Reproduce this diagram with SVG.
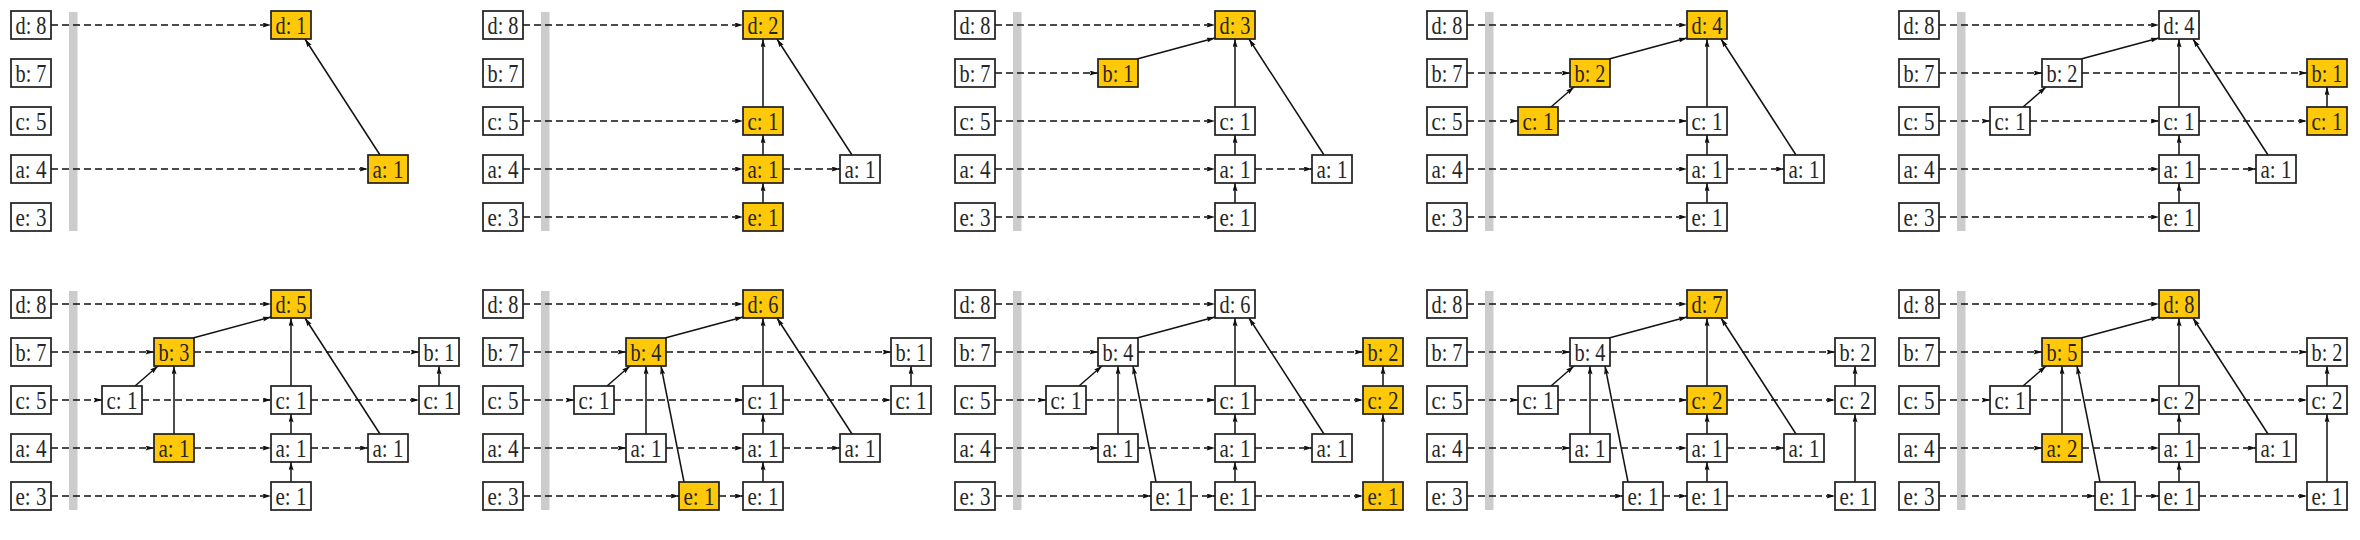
<svg xmlns="http://www.w3.org/2000/svg" width="2360" height="540" viewBox="0 0 2360 540">
<style>
.n rect{fill:#ffffff;stroke:#1e1e1e;stroke-width:1.7}
.y rect{fill:#ffc90a;stroke:#1e1e1e;stroke-width:1.7}
text{font-family:"Liberation Serif","Times New Roman",serif;font-size:26px;fill:#262626;text-anchor:middle}
.bar{fill:#cccccc}
.ds{stroke:#111;stroke-width:1.6;stroke-dasharray:7 4;fill:none;marker-end:url(#ah)}
.sl{stroke:#111;stroke-width:1.5;fill:none;marker-end:url(#ah)}
</style>
<defs>
<marker id="ah" viewBox="0 0 10 6" refX="10" refY="3" markerWidth="9" markerHeight="5" markerUnits="userSpaceOnUse" orient="auto">
<path d="M0,0 L10,3 L0,6 L1.5,3 z" fill="#111"/>
</marker>
</defs>
<rect width="2360" height="540" fill="#ffffff"/>

<!-- Panel 1 -->
<g id="panel1" transform="translate(0,0)">
<rect class="bar" x="69" y="12" width="8.5" height="219"/>
<g id="p1-edges">
<line class="ds" x1="51" y1="25" x2="271" y2="25"/>
<line class="ds" x1="51" y1="169" x2="368" y2="169"/>
<line class="sl" x1="380" y1="155" x2="305" y2="39"/>
</g>
<g id="p1-h-d8" class="n"><rect x="11" y="11" width="40" height="28"/><text x="31" y="34" textLength="31" lengthAdjust="spacingAndGlyphs">d: 8</text></g>
<g id="p1-h-b7" class="n"><rect x="11" y="59" width="40" height="28"/><text x="31" y="82" textLength="31" lengthAdjust="spacingAndGlyphs">b: 7</text></g>
<g id="p1-h-c5" class="n"><rect x="11" y="107" width="40" height="28"/><text x="31" y="130" textLength="31" lengthAdjust="spacingAndGlyphs">c: 5</text></g>
<g id="p1-h-a4" class="n"><rect x="11" y="155" width="40" height="28"/><text x="31" y="178" textLength="31" lengthAdjust="spacingAndGlyphs">a: 4</text></g>
<g id="p1-h-e3" class="n"><rect x="11" y="203" width="40" height="28"/><text x="31" y="226" textLength="31" lengthAdjust="spacingAndGlyphs">e: 3</text></g>
<g id="p1-d" class="y"><rect x="271" y="11" width="40" height="28"/><text x="291" y="34" textLength="31" lengthAdjust="spacingAndGlyphs">d: 1</text></g>
<g id="p1-a5" class="y"><rect x="368" y="155" width="40" height="28"/><text x="388" y="178" textLength="31" lengthAdjust="spacingAndGlyphs">a: 1</text></g>
</g>

<!-- Panel 2 -->
<g id="panel2" transform="translate(472,0)">
<rect class="bar" x="69" y="12" width="8.5" height="219"/>
<g id="p2-edges">
<line class="ds" x1="51" y1="25" x2="271" y2="25"/>
<line class="ds" x1="51" y1="121" x2="271" y2="121"/>
<line class="ds" x1="51" y1="169" x2="271" y2="169"/>
<line class="ds" x1="51" y1="217" x2="271" y2="217"/>
<line class="ds" x1="311" y1="169" x2="368" y2="169"/>
<line class="sl" x1="291" y1="203" x2="291" y2="183"/>
<line class="sl" x1="291" y1="155" x2="291" y2="135"/>
<line class="sl" x1="291" y1="107" x2="291" y2="39"/>
<line class="sl" x1="380" y1="155" x2="305" y2="39"/>
</g>
<g id="p2-h-d8" class="n"><rect x="11" y="11" width="40" height="28"/><text x="31" y="34" textLength="31" lengthAdjust="spacingAndGlyphs">d: 8</text></g>
<g id="p2-h-b7" class="n"><rect x="11" y="59" width="40" height="28"/><text x="31" y="82" textLength="31" lengthAdjust="spacingAndGlyphs">b: 7</text></g>
<g id="p2-h-c5" class="n"><rect x="11" y="107" width="40" height="28"/><text x="31" y="130" textLength="31" lengthAdjust="spacingAndGlyphs">c: 5</text></g>
<g id="p2-h-a4" class="n"><rect x="11" y="155" width="40" height="28"/><text x="31" y="178" textLength="31" lengthAdjust="spacingAndGlyphs">a: 4</text></g>
<g id="p2-h-e3" class="n"><rect x="11" y="203" width="40" height="28"/><text x="31" y="226" textLength="31" lengthAdjust="spacingAndGlyphs">e: 3</text></g>
<g id="p2-d" class="y"><rect x="271" y="11" width="40" height="28"/><text x="291" y="34" textLength="31" lengthAdjust="spacingAndGlyphs">d: 2</text></g>
<g id="p2-c4" class="y"><rect x="271" y="107" width="40" height="28"/><text x="291" y="130" textLength="31" lengthAdjust="spacingAndGlyphs">c: 1</text></g>
<g id="p2-a4" class="y"><rect x="271" y="155" width="40" height="28"/><text x="291" y="178" textLength="31" lengthAdjust="spacingAndGlyphs">a: 1</text></g>
<g id="p2-e4" class="y"><rect x="271" y="203" width="40" height="28"/><text x="291" y="226" textLength="31" lengthAdjust="spacingAndGlyphs">e: 1</text></g>
<g id="p2-a5" class="n"><rect x="368" y="155" width="40" height="28"/><text x="388" y="178" textLength="31" lengthAdjust="spacingAndGlyphs">a: 1</text></g>
</g>

<!-- Panel 3 -->
<g id="panel3" transform="translate(944,0)">
<rect class="bar" x="69" y="12" width="8.5" height="219"/>
<g id="p3-edges">
<line class="ds" x1="51" y1="25" x2="271" y2="25"/>
<line class="ds" x1="51" y1="73" x2="154" y2="73"/>
<line class="ds" x1="51" y1="121" x2="271" y2="121"/>
<line class="ds" x1="51" y1="169" x2="271" y2="169"/>
<line class="ds" x1="51" y1="217" x2="271" y2="217"/>
<line class="ds" x1="311" y1="169" x2="368" y2="169"/>
<line class="sl" x1="291" y1="203" x2="291" y2="183"/>
<line class="sl" x1="291" y1="155" x2="291" y2="135"/>
<line class="sl" x1="291" y1="107" x2="291" y2="39"/>
<line class="sl" x1="380" y1="155" x2="305" y2="39"/>
<line class="sl" x1="193" y1="59" x2="271" y2="38"/>
</g>
<g id="p3-h-d8" class="n"><rect x="11" y="11" width="40" height="28"/><text x="31" y="34" textLength="31" lengthAdjust="spacingAndGlyphs">d: 8</text></g>
<g id="p3-h-b7" class="n"><rect x="11" y="59" width="40" height="28"/><text x="31" y="82" textLength="31" lengthAdjust="spacingAndGlyphs">b: 7</text></g>
<g id="p3-h-c5" class="n"><rect x="11" y="107" width="40" height="28"/><text x="31" y="130" textLength="31" lengthAdjust="spacingAndGlyphs">c: 5</text></g>
<g id="p3-h-a4" class="n"><rect x="11" y="155" width="40" height="28"/><text x="31" y="178" textLength="31" lengthAdjust="spacingAndGlyphs">a: 4</text></g>
<g id="p3-h-e3" class="n"><rect x="11" y="203" width="40" height="28"/><text x="31" y="226" textLength="31" lengthAdjust="spacingAndGlyphs">e: 3</text></g>
<g id="p3-d" class="y"><rect x="271" y="11" width="40" height="28"/><text x="291" y="34" textLength="31" lengthAdjust="spacingAndGlyphs">d: 3</text></g>
<g id="p3-b2" class="y"><rect x="154" y="59" width="40" height="28"/><text x="174" y="82" textLength="31" lengthAdjust="spacingAndGlyphs">b: 1</text></g>
<g id="p3-c4" class="n"><rect x="271" y="107" width="40" height="28"/><text x="291" y="130" textLength="31" lengthAdjust="spacingAndGlyphs">c: 1</text></g>
<g id="p3-a4" class="n"><rect x="271" y="155" width="40" height="28"/><text x="291" y="178" textLength="31" lengthAdjust="spacingAndGlyphs">a: 1</text></g>
<g id="p3-e4" class="n"><rect x="271" y="203" width="40" height="28"/><text x="291" y="226" textLength="31" lengthAdjust="spacingAndGlyphs">e: 1</text></g>
<g id="p3-a5" class="n"><rect x="368" y="155" width="40" height="28"/><text x="388" y="178" textLength="31" lengthAdjust="spacingAndGlyphs">a: 1</text></g>
</g>

<!-- Panel 4 -->
<g id="panel4" transform="translate(1416,0)">
<rect class="bar" x="69" y="12" width="8.5" height="219"/>
<g id="p4-edges">
<line class="ds" x1="51" y1="25" x2="271" y2="25"/>
<line class="ds" x1="51" y1="73" x2="154" y2="73"/>
<line class="ds" x1="51" y1="121" x2="102" y2="121"/>
<line class="ds" x1="142" y1="121" x2="271" y2="121"/>
<line class="ds" x1="51" y1="169" x2="271" y2="169"/>
<line class="ds" x1="51" y1="217" x2="271" y2="217"/>
<line class="ds" x1="311" y1="169" x2="368" y2="169"/>
<line class="sl" x1="291" y1="203" x2="291" y2="183"/>
<line class="sl" x1="291" y1="155" x2="291" y2="135"/>
<line class="sl" x1="291" y1="107" x2="291" y2="39"/>
<line class="sl" x1="380" y1="155" x2="305" y2="39"/>
<line class="sl" x1="193" y1="59" x2="271" y2="38"/>
<line class="sl" x1="135" y1="107" x2="158" y2="87"/>
</g>
<g id="p4-h-d8" class="n"><rect x="11" y="11" width="40" height="28"/><text x="31" y="34" textLength="31" lengthAdjust="spacingAndGlyphs">d: 8</text></g>
<g id="p4-h-b7" class="n"><rect x="11" y="59" width="40" height="28"/><text x="31" y="82" textLength="31" lengthAdjust="spacingAndGlyphs">b: 7</text></g>
<g id="p4-h-c5" class="n"><rect x="11" y="107" width="40" height="28"/><text x="31" y="130" textLength="31" lengthAdjust="spacingAndGlyphs">c: 5</text></g>
<g id="p4-h-a4" class="n"><rect x="11" y="155" width="40" height="28"/><text x="31" y="178" textLength="31" lengthAdjust="spacingAndGlyphs">a: 4</text></g>
<g id="p4-h-e3" class="n"><rect x="11" y="203" width="40" height="28"/><text x="31" y="226" textLength="31" lengthAdjust="spacingAndGlyphs">e: 3</text></g>
<g id="p4-d" class="y"><rect x="271" y="11" width="40" height="28"/><text x="291" y="34" textLength="31" lengthAdjust="spacingAndGlyphs">d: 4</text></g>
<g id="p4-b2" class="y"><rect x="154" y="59" width="40" height="28"/><text x="174" y="82" textLength="31" lengthAdjust="spacingAndGlyphs">b: 2</text></g>
<g id="p4-c1" class="y"><rect x="102" y="107" width="40" height="28"/><text x="122" y="130" textLength="31" lengthAdjust="spacingAndGlyphs">c: 1</text></g>
<g id="p4-c4" class="n"><rect x="271" y="107" width="40" height="28"/><text x="291" y="130" textLength="31" lengthAdjust="spacingAndGlyphs">c: 1</text></g>
<g id="p4-a4" class="n"><rect x="271" y="155" width="40" height="28"/><text x="291" y="178" textLength="31" lengthAdjust="spacingAndGlyphs">a: 1</text></g>
<g id="p4-e4" class="n"><rect x="271" y="203" width="40" height="28"/><text x="291" y="226" textLength="31" lengthAdjust="spacingAndGlyphs">e: 1</text></g>
<g id="p4-a5" class="n"><rect x="368" y="155" width="40" height="28"/><text x="388" y="178" textLength="31" lengthAdjust="spacingAndGlyphs">a: 1</text></g>
</g>

<!-- Panel 5 -->
<g id="panel5" transform="translate(1888,0)">
<rect class="bar" x="69" y="12" width="8.5" height="219"/>
<g id="p5-edges">
<line class="ds" x1="51" y1="25" x2="271" y2="25"/>
<line class="ds" x1="51" y1="73" x2="154" y2="73"/>
<line class="ds" x1="194" y1="73" x2="419" y2="73"/>
<line class="ds" x1="51" y1="121" x2="102" y2="121"/>
<line class="ds" x1="142" y1="121" x2="271" y2="121"/>
<line class="ds" x1="311" y1="121" x2="419" y2="121"/>
<line class="ds" x1="51" y1="169" x2="271" y2="169"/>
<line class="ds" x1="51" y1="217" x2="271" y2="217"/>
<line class="ds" x1="311" y1="169" x2="368" y2="169"/>
<line class="sl" x1="291" y1="203" x2="291" y2="183"/>
<line class="sl" x1="291" y1="155" x2="291" y2="135"/>
<line class="sl" x1="291" y1="107" x2="291" y2="39"/>
<line class="sl" x1="380" y1="155" x2="305" y2="39"/>
<line class="sl" x1="193" y1="59" x2="271" y2="38"/>
<line class="sl" x1="135" y1="107" x2="158" y2="87"/>
<line class="sl" x1="439" y1="107" x2="439" y2="87"/>
</g>
<g id="p5-h-d8" class="n"><rect x="11" y="11" width="40" height="28"/><text x="31" y="34" textLength="31" lengthAdjust="spacingAndGlyphs">d: 8</text></g>
<g id="p5-h-b7" class="n"><rect x="11" y="59" width="40" height="28"/><text x="31" y="82" textLength="31" lengthAdjust="spacingAndGlyphs">b: 7</text></g>
<g id="p5-h-c5" class="n"><rect x="11" y="107" width="40" height="28"/><text x="31" y="130" textLength="31" lengthAdjust="spacingAndGlyphs">c: 5</text></g>
<g id="p5-h-a4" class="n"><rect x="11" y="155" width="40" height="28"/><text x="31" y="178" textLength="31" lengthAdjust="spacingAndGlyphs">a: 4</text></g>
<g id="p5-h-e3" class="n"><rect x="11" y="203" width="40" height="28"/><text x="31" y="226" textLength="31" lengthAdjust="spacingAndGlyphs">e: 3</text></g>
<g id="p5-d" class="n"><rect x="271" y="11" width="40" height="28"/><text x="291" y="34" textLength="31" lengthAdjust="spacingAndGlyphs">d: 4</text></g>
<g id="p5-b2" class="n"><rect x="154" y="59" width="40" height="28"/><text x="174" y="82" textLength="31" lengthAdjust="spacingAndGlyphs">b: 2</text></g>
<g id="p5-c1" class="n"><rect x="102" y="107" width="40" height="28"/><text x="122" y="130" textLength="31" lengthAdjust="spacingAndGlyphs">c: 1</text></g>
<g id="p5-c4" class="n"><rect x="271" y="107" width="40" height="28"/><text x="291" y="130" textLength="31" lengthAdjust="spacingAndGlyphs">c: 1</text></g>
<g id="p5-a4" class="n"><rect x="271" y="155" width="40" height="28"/><text x="291" y="178" textLength="31" lengthAdjust="spacingAndGlyphs">a: 1</text></g>
<g id="p5-e4" class="n"><rect x="271" y="203" width="40" height="28"/><text x="291" y="226" textLength="31" lengthAdjust="spacingAndGlyphs">e: 1</text></g>
<g id="p5-a5" class="n"><rect x="368" y="155" width="40" height="28"/><text x="388" y="178" textLength="31" lengthAdjust="spacingAndGlyphs">a: 1</text></g>
<g id="p5-b6" class="y"><rect x="419" y="59" width="40" height="28"/><text x="439" y="82" textLength="31" lengthAdjust="spacingAndGlyphs">b: 1</text></g>
<g id="p5-c6" class="y"><rect x="419" y="107" width="40" height="28"/><text x="439" y="130" textLength="31" lengthAdjust="spacingAndGlyphs">c: 1</text></g>
</g>

<!-- Panel 6 -->
<g id="panel6" transform="translate(0,279)">
<rect class="bar" x="69" y="12" width="8.5" height="219"/>
<g id="p6-edges">
<line class="ds" x1="51" y1="25" x2="271" y2="25"/>
<line class="ds" x1="51" y1="73" x2="154" y2="73"/>
<line class="ds" x1="194" y1="73" x2="419" y2="73"/>
<line class="ds" x1="51" y1="121" x2="102" y2="121"/>
<line class="ds" x1="142" y1="121" x2="271" y2="121"/>
<line class="ds" x1="311" y1="121" x2="419" y2="121"/>
<line class="ds" x1="51" y1="169" x2="154" y2="169"/>
<line class="ds" x1="194" y1="169" x2="271" y2="169"/>
<line class="ds" x1="51" y1="217" x2="271" y2="217"/>
<line class="ds" x1="311" y1="169" x2="368" y2="169"/>
<line class="sl" x1="291" y1="203" x2="291" y2="183"/>
<line class="sl" x1="291" y1="155" x2="291" y2="135"/>
<line class="sl" x1="291" y1="107" x2="291" y2="39"/>
<line class="sl" x1="380" y1="155" x2="305" y2="39"/>
<line class="sl" x1="193" y1="59" x2="271" y2="38"/>
<line class="sl" x1="135" y1="107" x2="158" y2="87"/>
<line class="sl" x1="439" y1="107" x2="439" y2="87"/>
<line class="sl" x1="174" y1="155" x2="174" y2="87"/>
</g>
<g id="p6-h-d8" class="n"><rect x="11" y="11" width="40" height="28"/><text x="31" y="34" textLength="31" lengthAdjust="spacingAndGlyphs">d: 8</text></g>
<g id="p6-h-b7" class="n"><rect x="11" y="59" width="40" height="28"/><text x="31" y="82" textLength="31" lengthAdjust="spacingAndGlyphs">b: 7</text></g>
<g id="p6-h-c5" class="n"><rect x="11" y="107" width="40" height="28"/><text x="31" y="130" textLength="31" lengthAdjust="spacingAndGlyphs">c: 5</text></g>
<g id="p6-h-a4" class="n"><rect x="11" y="155" width="40" height="28"/><text x="31" y="178" textLength="31" lengthAdjust="spacingAndGlyphs">a: 4</text></g>
<g id="p6-h-e3" class="n"><rect x="11" y="203" width="40" height="28"/><text x="31" y="226" textLength="31" lengthAdjust="spacingAndGlyphs">e: 3</text></g>
<g id="p6-d" class="y"><rect x="271" y="11" width="40" height="28"/><text x="291" y="34" textLength="31" lengthAdjust="spacingAndGlyphs">d: 5</text></g>
<g id="p6-b2" class="y"><rect x="154" y="59" width="40" height="28"/><text x="174" y="82" textLength="31" lengthAdjust="spacingAndGlyphs">b: 3</text></g>
<g id="p6-c1" class="n"><rect x="102" y="107" width="40" height="28"/><text x="122" y="130" textLength="31" lengthAdjust="spacingAndGlyphs">c: 1</text></g>
<g id="p6-a2" class="y"><rect x="154" y="155" width="40" height="28"/><text x="174" y="178" textLength="31" lengthAdjust="spacingAndGlyphs">a: 1</text></g>
<g id="p6-c4" class="n"><rect x="271" y="107" width="40" height="28"/><text x="291" y="130" textLength="31" lengthAdjust="spacingAndGlyphs">c: 1</text></g>
<g id="p6-a4" class="n"><rect x="271" y="155" width="40" height="28"/><text x="291" y="178" textLength="31" lengthAdjust="spacingAndGlyphs">a: 1</text></g>
<g id="p6-e4" class="n"><rect x="271" y="203" width="40" height="28"/><text x="291" y="226" textLength="31" lengthAdjust="spacingAndGlyphs">e: 1</text></g>
<g id="p6-a5" class="n"><rect x="368" y="155" width="40" height="28"/><text x="388" y="178" textLength="31" lengthAdjust="spacingAndGlyphs">a: 1</text></g>
<g id="p6-b6" class="n"><rect x="419" y="59" width="40" height="28"/><text x="439" y="82" textLength="31" lengthAdjust="spacingAndGlyphs">b: 1</text></g>
<g id="p6-c6" class="n"><rect x="419" y="107" width="40" height="28"/><text x="439" y="130" textLength="31" lengthAdjust="spacingAndGlyphs">c: 1</text></g>
</g>

<!-- Panel 7 -->
<g id="panel7" transform="translate(472,279)">
<rect class="bar" x="69" y="12" width="8.5" height="219"/>
<g id="p7-edges">
<line class="ds" x1="51" y1="25" x2="271" y2="25"/>
<line class="ds" x1="51" y1="73" x2="154" y2="73"/>
<line class="ds" x1="194" y1="73" x2="419" y2="73"/>
<line class="ds" x1="51" y1="121" x2="102" y2="121"/>
<line class="ds" x1="142" y1="121" x2="271" y2="121"/>
<line class="ds" x1="311" y1="121" x2="419" y2="121"/>
<line class="ds" x1="51" y1="169" x2="154" y2="169"/>
<line class="ds" x1="194" y1="169" x2="271" y2="169"/>
<line class="ds" x1="51" y1="217" x2="207" y2="217"/>
<line class="ds" x1="247" y1="217" x2="271" y2="217"/>
<line class="ds" x1="311" y1="169" x2="368" y2="169"/>
<line class="sl" x1="291" y1="203" x2="291" y2="183"/>
<line class="sl" x1="291" y1="155" x2="291" y2="135"/>
<line class="sl" x1="291" y1="107" x2="291" y2="39"/>
<line class="sl" x1="380" y1="155" x2="305" y2="39"/>
<line class="sl" x1="193" y1="59" x2="271" y2="38"/>
<line class="sl" x1="135" y1="107" x2="158" y2="87"/>
<line class="sl" x1="439" y1="107" x2="439" y2="87"/>
<line class="sl" x1="174" y1="155" x2="174" y2="87"/>
<line class="sl" x1="212" y1="203" x2="189" y2="87"/>
</g>
<g id="p7-h-d8" class="n"><rect x="11" y="11" width="40" height="28"/><text x="31" y="34" textLength="31" lengthAdjust="spacingAndGlyphs">d: 8</text></g>
<g id="p7-h-b7" class="n"><rect x="11" y="59" width="40" height="28"/><text x="31" y="82" textLength="31" lengthAdjust="spacingAndGlyphs">b: 7</text></g>
<g id="p7-h-c5" class="n"><rect x="11" y="107" width="40" height="28"/><text x="31" y="130" textLength="31" lengthAdjust="spacingAndGlyphs">c: 5</text></g>
<g id="p7-h-a4" class="n"><rect x="11" y="155" width="40" height="28"/><text x="31" y="178" textLength="31" lengthAdjust="spacingAndGlyphs">a: 4</text></g>
<g id="p7-h-e3" class="n"><rect x="11" y="203" width="40" height="28"/><text x="31" y="226" textLength="31" lengthAdjust="spacingAndGlyphs">e: 3</text></g>
<g id="p7-d" class="y"><rect x="271" y="11" width="40" height="28"/><text x="291" y="34" textLength="31" lengthAdjust="spacingAndGlyphs">d: 6</text></g>
<g id="p7-b2" class="y"><rect x="154" y="59" width="40" height="28"/><text x="174" y="82" textLength="31" lengthAdjust="spacingAndGlyphs">b: 4</text></g>
<g id="p7-c1" class="n"><rect x="102" y="107" width="40" height="28"/><text x="122" y="130" textLength="31" lengthAdjust="spacingAndGlyphs">c: 1</text></g>
<g id="p7-a2" class="n"><rect x="154" y="155" width="40" height="28"/><text x="174" y="178" textLength="31" lengthAdjust="spacingAndGlyphs">a: 1</text></g>
<g id="p7-e3" class="y"><rect x="207" y="203" width="40" height="28"/><text x="227" y="226" textLength="31" lengthAdjust="spacingAndGlyphs">e: 1</text></g>
<g id="p7-c4" class="n"><rect x="271" y="107" width="40" height="28"/><text x="291" y="130" textLength="31" lengthAdjust="spacingAndGlyphs">c: 1</text></g>
<g id="p7-a4" class="n"><rect x="271" y="155" width="40" height="28"/><text x="291" y="178" textLength="31" lengthAdjust="spacingAndGlyphs">a: 1</text></g>
<g id="p7-e4" class="n"><rect x="271" y="203" width="40" height="28"/><text x="291" y="226" textLength="31" lengthAdjust="spacingAndGlyphs">e: 1</text></g>
<g id="p7-a5" class="n"><rect x="368" y="155" width="40" height="28"/><text x="388" y="178" textLength="31" lengthAdjust="spacingAndGlyphs">a: 1</text></g>
<g id="p7-b6" class="n"><rect x="419" y="59" width="40" height="28"/><text x="439" y="82" textLength="31" lengthAdjust="spacingAndGlyphs">b: 1</text></g>
<g id="p7-c6" class="n"><rect x="419" y="107" width="40" height="28"/><text x="439" y="130" textLength="31" lengthAdjust="spacingAndGlyphs">c: 1</text></g>
</g>

<!-- Panel 8 -->
<g id="panel8" transform="translate(944,279)">
<rect class="bar" x="69" y="12" width="8.5" height="219"/>
<g id="p8-edges">
<line class="ds" x1="51" y1="25" x2="271" y2="25"/>
<line class="ds" x1="51" y1="73" x2="154" y2="73"/>
<line class="ds" x1="194" y1="73" x2="419" y2="73"/>
<line class="ds" x1="51" y1="121" x2="102" y2="121"/>
<line class="ds" x1="142" y1="121" x2="271" y2="121"/>
<line class="ds" x1="311" y1="121" x2="419" y2="121"/>
<line class="ds" x1="51" y1="169" x2="154" y2="169"/>
<line class="ds" x1="194" y1="169" x2="271" y2="169"/>
<line class="ds" x1="51" y1="217" x2="207" y2="217"/>
<line class="ds" x1="247" y1="217" x2="271" y2="217"/>
<line class="ds" x1="311" y1="217" x2="419" y2="217"/>
<line class="ds" x1="311" y1="169" x2="368" y2="169"/>
<line class="sl" x1="291" y1="203" x2="291" y2="183"/>
<line class="sl" x1="291" y1="155" x2="291" y2="135"/>
<line class="sl" x1="291" y1="107" x2="291" y2="39"/>
<line class="sl" x1="380" y1="155" x2="305" y2="39"/>
<line class="sl" x1="193" y1="59" x2="271" y2="38"/>
<line class="sl" x1="135" y1="107" x2="158" y2="87"/>
<line class="sl" x1="439" y1="107" x2="439" y2="87"/>
<line class="sl" x1="439" y1="203" x2="439" y2="135"/>
<line class="sl" x1="174" y1="155" x2="174" y2="87"/>
<line class="sl" x1="212" y1="203" x2="189" y2="87"/>
</g>
<g id="p8-h-d8" class="n"><rect x="11" y="11" width="40" height="28"/><text x="31" y="34" textLength="31" lengthAdjust="spacingAndGlyphs">d: 8</text></g>
<g id="p8-h-b7" class="n"><rect x="11" y="59" width="40" height="28"/><text x="31" y="82" textLength="31" lengthAdjust="spacingAndGlyphs">b: 7</text></g>
<g id="p8-h-c5" class="n"><rect x="11" y="107" width="40" height="28"/><text x="31" y="130" textLength="31" lengthAdjust="spacingAndGlyphs">c: 5</text></g>
<g id="p8-h-a4" class="n"><rect x="11" y="155" width="40" height="28"/><text x="31" y="178" textLength="31" lengthAdjust="spacingAndGlyphs">a: 4</text></g>
<g id="p8-h-e3" class="n"><rect x="11" y="203" width="40" height="28"/><text x="31" y="226" textLength="31" lengthAdjust="spacingAndGlyphs">e: 3</text></g>
<g id="p8-d" class="n"><rect x="271" y="11" width="40" height="28"/><text x="291" y="34" textLength="31" lengthAdjust="spacingAndGlyphs">d: 6</text></g>
<g id="p8-b2" class="n"><rect x="154" y="59" width="40" height="28"/><text x="174" y="82" textLength="31" lengthAdjust="spacingAndGlyphs">b: 4</text></g>
<g id="p8-c1" class="n"><rect x="102" y="107" width="40" height="28"/><text x="122" y="130" textLength="31" lengthAdjust="spacingAndGlyphs">c: 1</text></g>
<g id="p8-a2" class="n"><rect x="154" y="155" width="40" height="28"/><text x="174" y="178" textLength="31" lengthAdjust="spacingAndGlyphs">a: 1</text></g>
<g id="p8-e3" class="n"><rect x="207" y="203" width="40" height="28"/><text x="227" y="226" textLength="31" lengthAdjust="spacingAndGlyphs">e: 1</text></g>
<g id="p8-c4" class="n"><rect x="271" y="107" width="40" height="28"/><text x="291" y="130" textLength="31" lengthAdjust="spacingAndGlyphs">c: 1</text></g>
<g id="p8-a4" class="n"><rect x="271" y="155" width="40" height="28"/><text x="291" y="178" textLength="31" lengthAdjust="spacingAndGlyphs">a: 1</text></g>
<g id="p8-e4" class="n"><rect x="271" y="203" width="40" height="28"/><text x="291" y="226" textLength="31" lengthAdjust="spacingAndGlyphs">e: 1</text></g>
<g id="p8-a5" class="n"><rect x="368" y="155" width="40" height="28"/><text x="388" y="178" textLength="31" lengthAdjust="spacingAndGlyphs">a: 1</text></g>
<g id="p8-b6" class="y"><rect x="419" y="59" width="40" height="28"/><text x="439" y="82" textLength="31" lengthAdjust="spacingAndGlyphs">b: 2</text></g>
<g id="p8-c6" class="y"><rect x="419" y="107" width="40" height="28"/><text x="439" y="130" textLength="31" lengthAdjust="spacingAndGlyphs">c: 2</text></g>
<g id="p8-e6" class="y"><rect x="419" y="203" width="40" height="28"/><text x="439" y="226" textLength="31" lengthAdjust="spacingAndGlyphs">e: 1</text></g>
</g>

<!-- Panel 9 -->
<g id="panel9" transform="translate(1416,279)">
<rect class="bar" x="69" y="12" width="8.5" height="219"/>
<g id="p9-edges">
<line class="ds" x1="51" y1="25" x2="271" y2="25"/>
<line class="ds" x1="51" y1="73" x2="154" y2="73"/>
<line class="ds" x1="194" y1="73" x2="419" y2="73"/>
<line class="ds" x1="51" y1="121" x2="102" y2="121"/>
<line class="ds" x1="142" y1="121" x2="271" y2="121"/>
<line class="ds" x1="311" y1="121" x2="419" y2="121"/>
<line class="ds" x1="51" y1="169" x2="154" y2="169"/>
<line class="ds" x1="194" y1="169" x2="271" y2="169"/>
<line class="ds" x1="51" y1="217" x2="207" y2="217"/>
<line class="ds" x1="247" y1="217" x2="271" y2="217"/>
<line class="ds" x1="311" y1="217" x2="419" y2="217"/>
<line class="ds" x1="311" y1="169" x2="368" y2="169"/>
<line class="sl" x1="291" y1="203" x2="291" y2="183"/>
<line class="sl" x1="291" y1="155" x2="291" y2="135"/>
<line class="sl" x1="291" y1="107" x2="291" y2="39"/>
<line class="sl" x1="380" y1="155" x2="305" y2="39"/>
<line class="sl" x1="193" y1="59" x2="271" y2="38"/>
<line class="sl" x1="135" y1="107" x2="158" y2="87"/>
<line class="sl" x1="439" y1="107" x2="439" y2="87"/>
<line class="sl" x1="439" y1="203" x2="439" y2="135"/>
<line class="sl" x1="174" y1="155" x2="174" y2="87"/>
<line class="sl" x1="212" y1="203" x2="189" y2="87"/>
</g>
<g id="p9-h-d8" class="n"><rect x="11" y="11" width="40" height="28"/><text x="31" y="34" textLength="31" lengthAdjust="spacingAndGlyphs">d: 8</text></g>
<g id="p9-h-b7" class="n"><rect x="11" y="59" width="40" height="28"/><text x="31" y="82" textLength="31" lengthAdjust="spacingAndGlyphs">b: 7</text></g>
<g id="p9-h-c5" class="n"><rect x="11" y="107" width="40" height="28"/><text x="31" y="130" textLength="31" lengthAdjust="spacingAndGlyphs">c: 5</text></g>
<g id="p9-h-a4" class="n"><rect x="11" y="155" width="40" height="28"/><text x="31" y="178" textLength="31" lengthAdjust="spacingAndGlyphs">a: 4</text></g>
<g id="p9-h-e3" class="n"><rect x="11" y="203" width="40" height="28"/><text x="31" y="226" textLength="31" lengthAdjust="spacingAndGlyphs">e: 3</text></g>
<g id="p9-d" class="y"><rect x="271" y="11" width="40" height="28"/><text x="291" y="34" textLength="31" lengthAdjust="spacingAndGlyphs">d: 7</text></g>
<g id="p9-b2" class="n"><rect x="154" y="59" width="40" height="28"/><text x="174" y="82" textLength="31" lengthAdjust="spacingAndGlyphs">b: 4</text></g>
<g id="p9-c1" class="n"><rect x="102" y="107" width="40" height="28"/><text x="122" y="130" textLength="31" lengthAdjust="spacingAndGlyphs">c: 1</text></g>
<g id="p9-a2" class="n"><rect x="154" y="155" width="40" height="28"/><text x="174" y="178" textLength="31" lengthAdjust="spacingAndGlyphs">a: 1</text></g>
<g id="p9-e3" class="n"><rect x="207" y="203" width="40" height="28"/><text x="227" y="226" textLength="31" lengthAdjust="spacingAndGlyphs">e: 1</text></g>
<g id="p9-c4" class="y"><rect x="271" y="107" width="40" height="28"/><text x="291" y="130" textLength="31" lengthAdjust="spacingAndGlyphs">c: 2</text></g>
<g id="p9-a4" class="n"><rect x="271" y="155" width="40" height="28"/><text x="291" y="178" textLength="31" lengthAdjust="spacingAndGlyphs">a: 1</text></g>
<g id="p9-e4" class="n"><rect x="271" y="203" width="40" height="28"/><text x="291" y="226" textLength="31" lengthAdjust="spacingAndGlyphs">e: 1</text></g>
<g id="p9-a5" class="n"><rect x="368" y="155" width="40" height="28"/><text x="388" y="178" textLength="31" lengthAdjust="spacingAndGlyphs">a: 1</text></g>
<g id="p9-b6" class="n"><rect x="419" y="59" width="40" height="28"/><text x="439" y="82" textLength="31" lengthAdjust="spacingAndGlyphs">b: 2</text></g>
<g id="p9-c6" class="n"><rect x="419" y="107" width="40" height="28"/><text x="439" y="130" textLength="31" lengthAdjust="spacingAndGlyphs">c: 2</text></g>
<g id="p9-e6" class="n"><rect x="419" y="203" width="40" height="28"/><text x="439" y="226" textLength="31" lengthAdjust="spacingAndGlyphs">e: 1</text></g>
</g>

<!-- Panel 10 -->
<g id="panel10" transform="translate(1888,279)">
<rect class="bar" x="69" y="12" width="8.5" height="219"/>
<g id="p10-edges">
<line class="ds" x1="51" y1="25" x2="271" y2="25"/>
<line class="ds" x1="51" y1="73" x2="154" y2="73"/>
<line class="ds" x1="194" y1="73" x2="419" y2="73"/>
<line class="ds" x1="51" y1="121" x2="102" y2="121"/>
<line class="ds" x1="142" y1="121" x2="271" y2="121"/>
<line class="ds" x1="311" y1="121" x2="419" y2="121"/>
<line class="ds" x1="51" y1="169" x2="154" y2="169"/>
<line class="ds" x1="194" y1="169" x2="271" y2="169"/>
<line class="ds" x1="51" y1="217" x2="207" y2="217"/>
<line class="ds" x1="247" y1="217" x2="271" y2="217"/>
<line class="ds" x1="311" y1="217" x2="419" y2="217"/>
<line class="ds" x1="311" y1="169" x2="368" y2="169"/>
<line class="sl" x1="291" y1="203" x2="291" y2="183"/>
<line class="sl" x1="291" y1="155" x2="291" y2="135"/>
<line class="sl" x1="291" y1="107" x2="291" y2="39"/>
<line class="sl" x1="380" y1="155" x2="305" y2="39"/>
<line class="sl" x1="193" y1="59" x2="271" y2="38"/>
<line class="sl" x1="135" y1="107" x2="158" y2="87"/>
<line class="sl" x1="439" y1="107" x2="439" y2="87"/>
<line class="sl" x1="439" y1="203" x2="439" y2="135"/>
<line class="sl" x1="174" y1="155" x2="174" y2="87"/>
<line class="sl" x1="212" y1="203" x2="189" y2="87"/>
</g>
<g id="p10-h-d8" class="n"><rect x="11" y="11" width="40" height="28"/><text x="31" y="34" textLength="31" lengthAdjust="spacingAndGlyphs">d: 8</text></g>
<g id="p10-h-b7" class="n"><rect x="11" y="59" width="40" height="28"/><text x="31" y="82" textLength="31" lengthAdjust="spacingAndGlyphs">b: 7</text></g>
<g id="p10-h-c5" class="n"><rect x="11" y="107" width="40" height="28"/><text x="31" y="130" textLength="31" lengthAdjust="spacingAndGlyphs">c: 5</text></g>
<g id="p10-h-a4" class="n"><rect x="11" y="155" width="40" height="28"/><text x="31" y="178" textLength="31" lengthAdjust="spacingAndGlyphs">a: 4</text></g>
<g id="p10-h-e3" class="n"><rect x="11" y="203" width="40" height="28"/><text x="31" y="226" textLength="31" lengthAdjust="spacingAndGlyphs">e: 3</text></g>
<g id="p10-d" class="y"><rect x="271" y="11" width="40" height="28"/><text x="291" y="34" textLength="31" lengthAdjust="spacingAndGlyphs">d: 8</text></g>
<g id="p10-b2" class="y"><rect x="154" y="59" width="40" height="28"/><text x="174" y="82" textLength="31" lengthAdjust="spacingAndGlyphs">b: 5</text></g>
<g id="p10-c1" class="n"><rect x="102" y="107" width="40" height="28"/><text x="122" y="130" textLength="31" lengthAdjust="spacingAndGlyphs">c: 1</text></g>
<g id="p10-a2" class="y"><rect x="154" y="155" width="40" height="28"/><text x="174" y="178" textLength="31" lengthAdjust="spacingAndGlyphs">a: 2</text></g>
<g id="p10-e3" class="n"><rect x="207" y="203" width="40" height="28"/><text x="227" y="226" textLength="31" lengthAdjust="spacingAndGlyphs">e: 1</text></g>
<g id="p10-c4" class="n"><rect x="271" y="107" width="40" height="28"/><text x="291" y="130" textLength="31" lengthAdjust="spacingAndGlyphs">c: 2</text></g>
<g id="p10-a4" class="n"><rect x="271" y="155" width="40" height="28"/><text x="291" y="178" textLength="31" lengthAdjust="spacingAndGlyphs">a: 1</text></g>
<g id="p10-e4" class="n"><rect x="271" y="203" width="40" height="28"/><text x="291" y="226" textLength="31" lengthAdjust="spacingAndGlyphs">e: 1</text></g>
<g id="p10-a5" class="n"><rect x="368" y="155" width="40" height="28"/><text x="388" y="178" textLength="31" lengthAdjust="spacingAndGlyphs">a: 1</text></g>
<g id="p10-b6" class="n"><rect x="419" y="59" width="40" height="28"/><text x="439" y="82" textLength="31" lengthAdjust="spacingAndGlyphs">b: 2</text></g>
<g id="p10-c6" class="n"><rect x="419" y="107" width="40" height="28"/><text x="439" y="130" textLength="31" lengthAdjust="spacingAndGlyphs">c: 2</text></g>
<g id="p10-e6" class="n"><rect x="419" y="203" width="40" height="28"/><text x="439" y="226" textLength="31" lengthAdjust="spacingAndGlyphs">e: 1</text></g>
</g>
</svg>
